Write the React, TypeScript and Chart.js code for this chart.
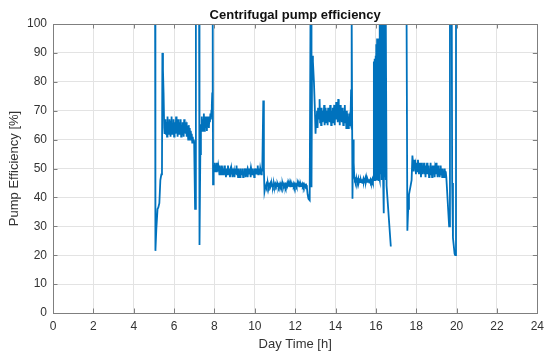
import React, { useEffect, useRef } from "react";
import { Chart, registerables } from "chart.js";

Chart.register(...registerables);

// ---- Data (hours of day, pump efficiency in %) ----
const BAND_STEP = 0.025; // logging interval inside steady periods [h]
const OSC_STEP = 0.02;   // logging interval during the oscillating period [h]

const chartTitle = "Centrifugal pump efficiency";
const xTicks = [0, 2, 4, 6, 8, 10, 12, 14, 16, 18, 20, 22, 24];
const yTicks = [0, 10, 20, 30, 40, 50, 60, 70, 80, 90, 100];

// transitions: [hour, efficiency] (values >100 are off-scale)
const startUp: [number, number][] = [
  [5.06, 104], [5.075, 21.5], [5.12, 29], [5.18, 36], [5.22, 36.5], [5.27, 38],
  [5.32, 46], [5.37, 48], [5.40, 49], [5.42, 90], [5.45, 84], [5.48, 76], [5.51, 64], [5.53, 62],
];
const steadyA = [
  64, 67, 62, 66, 61, 68, 63, 65, 62, 67,
  64, 61, 66, 68, 62, 65, 63, 67, 61, 64,
  66, 62, 68, 63, 65, 61, 67, 64, 62, 66,
  63, 67, 61, 65, 62, 66, 64, 61, 67, 63,
  65, 62, 66, 61, 64, 63, 60, 65, 62, 64,
  60, 63, 61, 62, 59, 61, 59, 60,
];
const transAB: [number, number][] = [
  [6.995, 59], [7.04, 36], [7.08, 104], [7.24, 104], [7.26, 23.5], [7.30, 55], [7.33, 65],
];
const steadyB = [65, 68, 63, 67, 64, 69, 63, 66, 68, 64, 67, 63, 68, 65, 67, 64, 68, 66, 69, 67, 70];
const transBC: [number, number][] = [
  [7.87, 72], [7.89, 76], [7.915, 104], [7.93, 44.5], [7.95, 51],
];
const steadyC = [
  51, 49, 52, 50, 51, 49, 52, 50, 49, 51,
  50, 48, 51, 49, 50, 48, 51, 49, 50, 48,
  49, 51, 48, 50, 47, 49, 50, 48, 51, 49,
  48, 50, 47, 49, 48, 50, 49, 47, 50, 48,
  49, 47, 50, 48, 49, 51, 48, 49, 47, 50,
  48, 49, 47, 50, 48, 49, 48, 50, 47, 49,
  48, 50, 49, 47, 50, 48, 49, 47, 49, 48,
  50, 48, 49, 47, 50, 49, 48, 50, 48, 49,
  47, 50, 49, 48, 50, 48, 49, 51, 48, 50,
  49, 48, 50, 49, 48, 50, 49,
];
const transCD: [number, number][] = [
  [10.40, 49], [10.42, 73.5], [10.45, 50], [10.48, 42], [10.52, 43.5],
];
const steadyD = [
  44, 44.6, 43.8, 44.4, 44.9, 44.1, 43.7, 44.5, 44.2, 44.8,
  43.9, 44.3, 44.7, 44, 43.6, 44.4, 44.9, 44.2, 43.8, 44.6,
  44.1, 44.5, 43.9, 44.8, 44.3, 43.7, 44.4, 44.1, 44.7, 44,
  44.5, 43.8, 44.3, 44.9, 44.2, 43.9, 44.6, 44.1, 44.4, 43.7,
  44.5, 44.2, 44.8, 43.9, 44.3, 44.6, 44, 44.4, 43.8, 44.7,
  44.1, 44.5, 43.9, 44.3, 44.8, 44, 44.4, 43.7, 44.6, 44.2,
  44.5, 43.9, 44.3, 44.7, 44.1, 44.4, 43.8, 44.6, 44.2, 44.5,
  43.9, 44.3, 44.7, 44, 44.4, 43.8, 44.5, 44.1, 44.3, 43.9,
  44.2,
];
const transDE: [number, number][] = [
  [12.58, 43.5], [12.62, 41], [12.66, 39.5], [12.72, 39], [12.76, 104], [12.79, 104],
  [12.81, 43.5], [12.84, 89], [12.88, 87], [12.93, 80], [12.97, 72], [13.01, 62], [13.04, 68],
];
const steadyE = [
  66, 70, 64, 71, 67, 69, 74, 66, 70, 65,
  71, 68, 66, 70, 67, 72, 65, 69, 71, 66,
  68, 70, 65, 71, 67, 69, 66, 72, 68, 65,
  70, 67, 71, 66, 69, 72, 65, 70, 68, 73,
  67, 71, 66, 74, 68, 70, 65, 72, 67, 69,
  66, 71, 68, 65, 70, 67, 72, 66, 69, 64,
  70, 66, 69, 64, 68, 65, 67,
];
const transEF: [number, number][] = [
  [14.74, 66], [14.77, 77], [14.80, 104], [14.84, 39.5], [14.87, 60], [14.90, 52], [14.93, 47], [14.96, 46],
];
const steadyF = [
  46.2, 45.4, 46.5, 45.1, 46, 45.6, 46.4, 45.2, 45.9, 46.6,
  45.3, 46.1, 45.5, 46.3, 45, 45.8, 46.4, 45.3, 46, 45.6,
  46.5, 45.2, 45.9, 46.2, 45.4, 46, 45.5, 46.3, 45.1, 45.8,
  46.2, 45.4, 45.9, 45.6, 46.3, 45.5,
];
const oscillationG = [
  46, 87, 47, 88, 46, 89, 47, 93, 46, 95, 48, 94, 46, 95, 47, 104,
  46, 104, 48, 104, 46, 104, 47, 104, 46, 104, 34.5, 104, 47, 104, 46, 104,
];
const shutDownG: [number, number][] = [[16.53, 44], [16.57, 40], [16.74, 23]];
const startUpH: [number, number][] = [
  [17.52, 104], [17.56, 28.5], [17.60, 36], [17.64, 41], [17.68, 42.5], [17.72, 44],
  [17.77, 46], [17.81, 54.5], [17.84, 52],
];
const steadyH = [
  52, 49, 53, 50, 51, 48, 52, 50, 49, 53,
  50, 48, 52, 49, 51, 47, 52, 50, 48, 51,
  49, 52, 48, 50, 47, 51, 49, 52, 48, 50,
  51, 47, 50, 49, 52, 48, 50, 47, 51, 49,
  48, 51, 47, 50, 49, 52, 48, 49, 47, 51,
  48, 50, 47, 49, 51, 48, 49, 47, 50, 48,
  49, 47, 50, 48, 49,
];
const shutDownH: [number, number][] = [
  [19.49, 47], [19.63, 30], [19.67, 104], [19.76, 104], [19.78, 45], [19.82, 26],
  [19.90, 20.5], [19.93, 20], [19.97, 104],
];

// ---- Styles ----
const LINE_COLOR = "#0072BD";
const GRID_COLOR = "#e3e3e3";
const AXIS_COLOR = "#7f7f7f";
const TEXT_COLOR = "#333333";
const FONT = "'Liberation Sans', Arial, Helvetica, sans-serif";

type Pt = { x: number; y: number | null };
const pairs = (arr: [number, number][]): Pt[] => arr.map(([x, y]) => ({ x, y }));
const band = (start: number, step: number, vals: number[]): Pt[] =>
  vals.map((v, i) => ({ x: start + i * step, y: v }));

function buildSeries(): Pt[] {
  return [
    ...pairs(startUp),
    ...band(5.55, BAND_STEP, steadyA),
    ...pairs(transAB),
    ...band(7.35, BAND_STEP, steadyB),
    ...pairs(transBC),
    ...band(7.97, BAND_STEP, steadyC),
    ...pairs(transCD),
    ...band(10.55, BAND_STEP, steadyD),
    ...pairs(transDE),
    ...band(13.06, BAND_STEP, steadyE),
    ...pairs(transEF),
    ...band(14.98, BAND_STEP, steadyF),
    ...band(15.88, OSC_STEP, oscillationG),
    ...pairs(shutDownG),
    { x: 17.1, y: null },
    ...pairs(startUpH),
    ...band(17.86, BAND_STEP, steadyH),
    ...pairs(shutDownH),
  ];
}

const boxPlugin = {
  id: "matlabBox",
  afterDatasetsDraw(chart: any) {
    const { ctx, chartArea, scales } = chart;
    const { left, right, top, bottom } = chartArea;
    const L = 4.5;
    ctx.save();
    ctx.strokeStyle = AXIS_COLOR;
    ctx.lineWidth = 1;
    ctx.beginPath();
    scales.x.ticks.forEach((t: any) => {
      const px = Math.round(scales.x.getPixelForValue(t.value)) + 0.5;
      ctx.moveTo(px, bottom);
      ctx.lineTo(px, bottom - L);
      ctx.moveTo(px, top);
      ctx.lineTo(px, top + L);
    });
    scales.y.ticks.forEach((t: any) => {
      const py = Math.round(scales.y.getPixelForValue(t.value)) + 0.5;
      ctx.moveTo(left, py);
      ctx.lineTo(left + L, py);
      ctx.moveTo(right, py);
      ctx.lineTo(right - L, py);
    });
    ctx.stroke();
    ctx.strokeRect(Math.round(left) + 0.5, Math.round(top) + 0.5, Math.round(right - left), Math.round(bottom - top));
    // title centred over the plot area
    ctx.fillStyle = "#111111";
    ctx.font = `bold 13px ${FONT}`;
    ctx.textAlign = "center";
    ctx.textBaseline = "alphabetic";
    ctx.fillText(chartTitle, (left + right) / 2, 18.5);
    ctx.restore();
  },
};

export default function App() {
  const canvasRef = useRef<HTMLCanvasElement | null>(null);

  useEffect(() => {
    if (!canvasRef.current) return;
    const chart = new Chart(canvasRef.current, {
      type: "scatter",
      data: {
        datasets: [
          {
            data: buildSeries() as any,
            showLine: true,
            spanGaps: false,
            borderColor: LINE_COLOR,
            backgroundColor: LINE_COLOR,
            borderWidth: 1.8,
            pointRadius: 0,
            tension: 0,
          },
        ],
      },
      options: {
        animation: false,
        responsive: false,
        devicePixelRatio: 1,
        layout: { padding: { left: 0, right: 11, top: 24, bottom: 0 } },
        plugins: {
          legend: { display: false },
          tooltip: { enabled: false },
          title: { display: false },
        },
        scales: {
          x: {
            type: "linear",
            min: 0,
            max: 24,
            afterBuildTicks: (scale: any) => {
              scale.ticks = xTicks.map((v) => ({ value: v }));
            },
            afterFit: (scale: any) => {
              scale.height = 47;
            },
            ticks: {
              color: TEXT_COLOR,
              font: { family: FONT, size: 12 },
              padding: 6,
              maxRotation: 0,
              autoSkip: false,
            },
            grid: { color: GRID_COLOR, lineWidth: 1, drawTicks: false },
            border: { display: false },
            title: {
              display: true,
              text: "Day Time [h]",
              color: TEXT_COLOR,
              font: { family: FONT, size: 13 },
              padding: { top: 0, bottom: 7.7 },
            },
          },
          y: {
            type: "linear",
            min: 0,
            max: 100,
            afterBuildTicks: (scale: any) => {
              scale.ticks = yTicks.map((v) => ({ value: v }));
            },
            afterFit: (scale: any) => {
              scale.width = 53;
            },
            ticks: {
              color: TEXT_COLOR,
              font: { family: FONT, size: 12 },
              padding: 6,
              autoSkip: false,
            },
            grid: { color: GRID_COLOR, lineWidth: 1, drawTicks: false },
            border: { display: false },
            title: {
              display: true,
              text: "Pump Efficiency [%]",
              color: TEXT_COLOR,
              font: { family: FONT, size: 13 },
              padding: { top: 7, bottom: 0 },
            },
          },
        },
      },
      plugins: [boxPlugin],
    } as any);
    return () => chart.destroy();
  }, []);

  return (
    <div style={{ position: "fixed", left: 0, top: 0, width: 550, height: 360, background: "#ffffff" }}>
      <canvas ref={canvasRef} width={550} height={360} style={{ width: 550, height: 360, display: "block" }} />
    </div>
  );
}
